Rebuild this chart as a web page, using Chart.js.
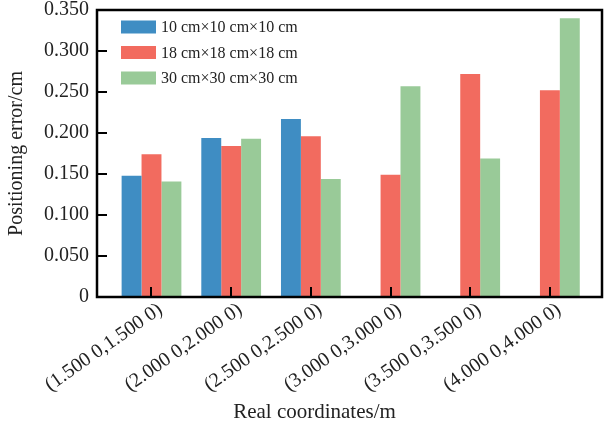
<!DOCTYPE html>
<html>
<head>
<meta charset="utf-8">
<script src="https://cdn.jsdelivr.net/npm/chart.js@4.4.1/dist/chart.umd.min.js"></script>
<style>
  html, body { margin: 0; padding: 0; background: #fff; }
  #wrap { width: 604px; height: 428px; }
</style>
</head>
<body>
<div id="wrap"><canvas id="chart" width="604" height="428"></canvas></div>
<script>
const categories = ['(1.500 0,1.500 0)', '(2.000 0,2.000 0)', '(2.500 0,2.500 0)',
                    '(3.000 0,3.000 0)', '(3.500 0,3.500 0)', '(4.000 0,4.000 0)'];
const seriesNames = ['10 cm×10 cm×10 cm', '18 cm×18 cm×18 cm', '30 cm×30 cm×30 cm'];
const cube10 = [0.148, 0.194, 0.217, null, null, null];
const cube18 = [0.174, 0.184, 0.196, 0.149, 0.272, 0.252];
const cube30 = [0.141, 0.193, 0.144, 0.257, 0.169, 0.340];
const yTickLabels = ['0', '0.050', '0.100', '0.150', '0.200', '0.250', '0.300', '0.350'];
const xTitle = 'Real coordinates/m';
const yTitle = 'Positioning error/cm';

const colors = ['#3f8dc3', '#f26b5f', '#99ca98'];
const FONT = "'Liberation Serif', 'DejaVu Serif', serif";

// inward ticks, frame, legend inside the plot, x title
const decor = {
    id: 'decor',
    afterDatasetsDraw(chart) {
        const { ctx, chartArea: a, scales } = chart;
        ctx.save();
        ctx.strokeStyle = '#000';
        ctx.lineWidth = 2;
        ctx.beginPath();
        scales.y.ticks.forEach(t => {
            const py = Math.round(scales.y.getPixelForValue(t.value));
            ctx.moveTo(a.left, py);
            ctx.lineTo(a.left + 10, py);
        });
        scales.x.ticks.forEach(t => {
            const px = Math.round(scales.x.getPixelForValue(t.value));
            ctx.moveTo(px, a.bottom);
            ctx.lineTo(px, a.bottom - 10);
        });
        ctx.stroke();
        ctx.lineWidth = 2.5;
        ctx.strokeRect(a.left, a.top, a.right - a.left, a.bottom - a.top);

        ctx.font = '16px ' + FONT;
        ctx.textBaseline = 'middle';
        ctx.textAlign = 'left';
        chart.data.datasets.forEach((ds, i) => {
            const yc = a.top + 17 + i * 25.5;
            ctx.fillStyle = ds.backgroundColor;
            ctx.fillRect(a.left + 24, yc - 6.5, 35, 13);
            ctx.fillStyle = '#222';
            ctx.fillText(ds.label, a.left + 64, yc + 1);
        });

        ctx.font = '21px ' + FONT;
        ctx.textAlign = 'center';
        ctx.fillStyle = '#222';
        ctx.fillText(xTitle, (a.left + a.right) / 2 - 35, 412);
        ctx.restore();
    }
};

new Chart(document.getElementById('chart'), {
    type: 'bar',
    data: {
        labels: categories.map((_, i) => i),
        datasets: [
            { label: seriesNames[0], data: cube10, backgroundColor: colors[0] },
            { label: seriesNames[1], data: cube18, backgroundColor: colors[1] },
            { label: seriesNames[2], data: cube30, backgroundColor: colors[2] }
        ]
    },
    options: {
        responsive: false,
        animation: false,
        layout: { padding: { top: 10, right: 2, left: 0, bottom: 0 } },
        datasets: { bar: { categoryPercentage: 0.75, barPercentage: 1 } },
        plugins: { legend: { display: false }, tooltip: { enabled: false } },
        scales: {
            x: {
                type: 'linear',
                min: -0.684, max: 5.654,
                offset: false,
                grid: { display: false },
                border: { display: false },
                afterBuildTicks: s => { s.ticks = categories.map((_, i) => ({ value: i })); },
                afterFit: s => { s.height = 131; s.paddingLeft = 0; s.paddingRight = 0; },
                ticks: {
                    autoSkip: false,
                    minRotation: 35, maxRotation: 35,
                    padding: -7,
                    labelOffset: 9,
                    color: '#222',
                    font: { family: FONT, size: 20 },
                    callback: v => categories[Math.round(v)]
                }
            },
            y: {
                min: 0, max: 0.35,
                grid: { display: false },
                border: { display: false },
                afterFit: s => { s.width = 97; s.paddingTop = 0; s.paddingBottom = 0; },
                ticks: {
                    stepSize: 0.05,
                    padding: 0,
                    color: '#222',
                    font: { family: FONT, size: 20 },
                    callback: (v, i) => yTickLabels[i]
                },
                title: {
                    display: true,
                    text: yTitle,
                    color: '#222',
                    padding: { top: 5, bottom: 0 },
                    font: { family: FONT, size: 20 }
                }
            }
        }
    },
    plugins: [decor]
});
</script>
</body>
</html>
